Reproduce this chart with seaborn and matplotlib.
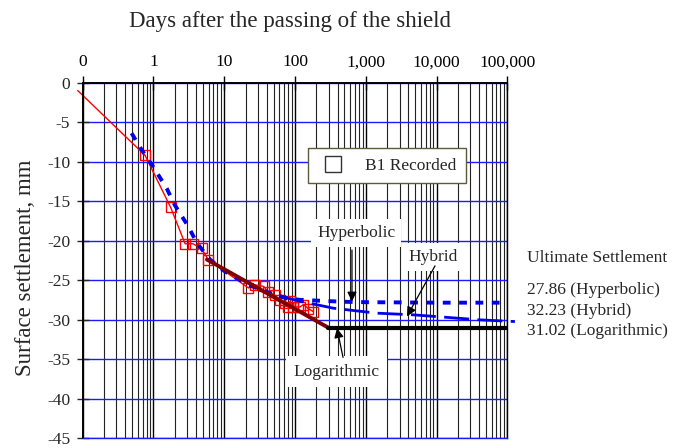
import matplotlib
matplotlib.use("Agg")
import matplotlib.pyplot as plt
import seaborn as sns
import pandas as pd
from matplotlib.lines import Line2D
from matplotlib.ticker import FixedLocator, LogLocator, NullFormatter

# Recorded surface settlement at point B1 (days after shield passage, mm)
rec_days = [0.76, 1.75, 2.8, 3.6, 4.8, 5.9, 22, 27, 36, 42, 52, 61, 72, 80,
            85, 95, 118, 131, 154, 181]
rec_settle = [-9.2, -15.8, -20.4, -20.4, -21.0, -22.4, -26.0, -25.6, -25.8,
              -26.5, -26.9, -27.5, -27.9, -28.4, -27.7, -28.4, -28.4, -28.1,
              -28.6, -29.0]
# lead-in of the recorded trace before the first reading
lead_days = [0.085, 0.76]
lead_settle = [-1.0, -9.2]

# Hyperbolic fit
hyp_days = [0.49, 0.68, 1.0, 1.54, 2.0, 3.1, 4.1, 6.3, 10.2, 21.9, 39.8, 76,
            117, 202, 500, 1000, 10000, 100000]
hyp_settle = [-6.4, -8.5, -10.7, -13.4, -15.5, -18.2, -20.3, -22.4, -23.9,
              -25.6, -26.5, -27.3, -27.5, -27.6, -27.75, -27.8, -27.86, -27.86]

# Hybrid fit
hyb_days = [60, 120, 348, 1426, 4690, 41100, 128000]
hyb_settle = [-27.0, -27.7, -28.56, -29.19, -29.4, -30.04, -30.25]

# Logarithmic fit and its ultimate value
log_days = [5.7, 295]
log_settle = [-22.4, -31.02]
ult_days = [295, 95000]
ult_settle = [-31.02, -31.02]

x_ticks = [0.1, 1, 10, 100, 1000, 10000, 100000]
x_tick_labels = ["0", "1", "10", "100", "1,000", "10,000", "100,000"]
y_ticks = [0, -5, -10, -15, -20, -25, -30, -35, -40, -45]

ult_title = "Ultimate Settlement"
ult_labels = ["27.86 (Hyperbolic)", "32.23 (Hybrid)", "31.02 (Logarithmic)"]

sns.set_style("white")
plt.rcParams["font.family"] = ["Liberation Serif", "DejaVu Serif"]
plt.rcParams["axes.unicode_minus"] = False

fig = plt.figure(figsize=(6.88, 4.48), dpi=100)
ax = fig.add_axes([0.1202, 0.0223, 0.6172, 0.7932])
ax.set_xscale("log")
ax.set_xlim(0.1, 100000)
ax.set_ylim(-45, 0)

# grid: black verticals at every log step, blue horizontals every 5 mm
ax.xaxis.set_major_locator(FixedLocator(x_ticks))
ax.xaxis.set_minor_locator(LogLocator(base=10, subs=range(2, 10), numticks=20))
ax.xaxis.set_minor_formatter(NullFormatter())
ax.grid(True, which="major", axis="x", color="black", lw=1.0)
ax.grid(True, which="minor", axis="x", color="#222222", lw=0.8)
ax.grid(True, which="major", axis="y", color="#1a1aff", lw=1.0)
ax.set_axisbelow(True)

# recorded data
sns.lineplot(x=lead_days, y=lead_settle, ax=ax, color="red", lw=1.0,
             sort=False, estimator=None, clip_on=False)
rec = pd.DataFrame({"days": rec_days, "settle": rec_settle})
sns.lineplot(data=rec, x="days", y="settle", ax=ax, color="red", lw=1.0,
             sort=False, estimator=None, marker="s", markersize=7.5,
             markerfacecolor="none", markeredgecolor="red",
             markeredgewidth=1.0)

# fitted curves
l1 = sns.lineplot(x=hyp_days, y=hyp_settle, ax=ax, color="#0000ee", lw=2.8,
                  sort=False, estimator=None).lines[-1]
l1.set_linestyle((0, (2.0, 2.2)))
l2 = sns.lineplot(x=hyb_days, y=hyb_settle, ax=ax, color="#0000ee", lw=2.0,
                  sort=False, estimator=None, clip_on=False).lines[-1]
l2.set_linestyle((0, (9, 3)))
sns.lineplot(x=log_days, y=log_settle, ax=ax, color="#800000", lw=2.8,
             sort=False, estimator=None)
sns.lineplot(x=ult_days, y=ult_settle, ax=ax, color="black", lw=3.0,
             sort=False, estimator=None)

# axes styling
ax.xaxis.tick_top()
ax.xaxis.set_label_position("top")
ax.set_xticklabels(x_tick_labels)
ax.set_yticks(y_ticks)
ax.set_yticklabels([str(v) for v in y_ticks])
ax.tick_params(axis="x", which="major", direction="inout", length=10,
               width=1.0, pad=4, labelsize=12.5, colors="black")
ax.tick_params(axis="x", which="minor", length=0)
ax.tick_params(axis="y", which="major", direction="inout", length=8,
               width=1.0, pad=5, labelsize=12.5, left=True)
for side in ("top", "left", "right"):
    ax.spines[side].set_visible(True)
    ax.spines[side].set_color("black")
ax.spines["top"].set_linewidth(1.4)
ax.spines["left"].set_linewidth(1.4)
ax.spines["right"].set_linewidth(1.0)
ax.spines["bottom"].set_color("#1a1aff")
ax.spines["bottom"].set_linewidth(1.0)

ax.set_xlabel("")
ax.set_ylabel("Surface settlement, mm", fontsize=16.5)
ax.yaxis.set_label_coords(-0.11, 0.48)
fig.text(0.422, 0.953, "Days after the passing of the shield",
         fontsize=16.5, ha="center", va="center")

# annotations
box = dict(boxstyle="square,pad=0.35", facecolor="white", edgecolor="none")
arrow = dict(arrowstyle="-|>", color="black", lw=0.9, mutation_scale=14,
             shrinkA=0, shrinkB=0)
ax.text(728, -19.0, "Hyperbolic", fontsize=12.5, ha="center", va="center",
        bbox=box, zorder=5)
ax.annotate("", xy=(638, -27.7), xytext=(638, -21.2), arrowprops=arrow,
            zorder=6)
ax.text(8830, -22.06, "Hybrid", fontsize=12.5, ha="center", va="center",
        bbox=box, zorder=5)
ax.annotate("", xy=(3820, -29.6), xytext=(9510, -23.2), arrowprops=arrow,
            zorder=6)
ax.text(388, -36.6, "Logarithmic", fontsize=12.5, ha="center", va="center",
        bbox=dict(boxstyle="square,pad=0.45", facecolor="white",
                  edgecolor="none"), zorder=5)
ax.annotate("", xy=(392, -31.1), xytext=(477, -34.8), arrowprops=arrow,
            zorder=6)

# legend
handle = Line2D([], [], linestyle="none", marker="s", markersize=11,
                markerfacecolor="white", markeredgecolor="#333333",
                markeredgewidth=1.0)
leg = ax.legend([handle], ["B1 Recorded"], loc="upper left",
                bbox_to_anchor=(0.531, 0.816), borderaxespad=0,
                frameon=True, fancybox=False, fontsize=12.5,
                handletextpad=0.95, borderpad=0.55, handlelength=1.8)
leg.get_frame().set_edgecolor("#5c5c3d")
leg.get_frame().set_linewidth(1.0)
leg.get_frame().set_facecolor("white")
leg.get_frame().set_alpha(1.0)
leg.set_zorder(7)

# ultimate settlement summary
fig.text(527 / 688, 1 - 258 / 448, ult_title, fontsize=12.5,
         ha="left", va="center")
for lbl, ypx in zip(ult_labels, [290, 311, 331]):
    fig.text(527 / 688, 1 - ypx / 448, lbl, fontsize=12.5,
             ha="left", va="center")

fig.savefig("out.png", dpi=100)
